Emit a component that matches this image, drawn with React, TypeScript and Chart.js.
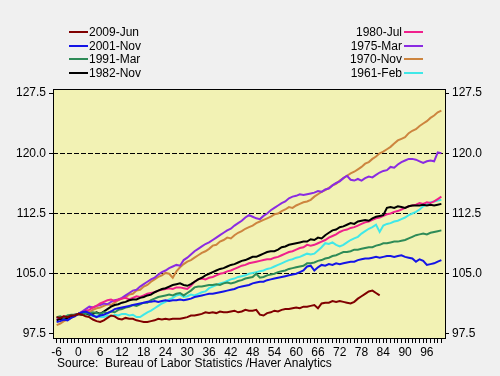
import React, { useEffect, useRef } from 'react';
import { Chart, registerables } from 'chart.js';

Chart.register(...registerables);

// Months relative to the trough (x axis), -6 .. 100
const FIRST_MONTH = -6;

const xTickLabels = [-6, 0, 6, 12, 18, 24, 30, 36, 42, 48, 54, 60, 66, 72, 78, 84, 90, 96];
const yTickValues = [97.5, 105, 112.5, 120, 127.5];

// Series values, index = 100 at trough, one value per month from -6
const s2009Jun = [
  99.6, 99.5, 99.7, 99.6, 99.8, 99.8, 100.0,
  99.9, 99.7, 99.6, 99.3, 99.1, 99.0, 99.2, 99.5, 99.8, 99.7, 99.4, 99.3,
  99.5, 99.4, 99.4, 99.2, 99.1, 99.0, 99.0, 99.1, 99.2, 99.4, 99.3, 99.4,
  99.3, 99.4, 99.4, 99.4, 99.5, 99.6, 99.8, 99.8, 99.9, 100.0, 100.2, 100.1,
  100.2, 100.1, 100.3, 100.2, 100.2, 100.3, 100.4, 100.2, 100.3, 100.5, 100.4, 100.4,
  100.5, 99.9, 99.8, 100.1, 100.2, 100.4, 100.3, 100.5, 100.6, 100.6, 100.7, 100.8,
  100.7, 100.9, 100.9, 101.0, 101.1, 100.7, 101.3, 101.4, 101.4, 101.6, 101.5, 101.6,
  101.5, 101.4, 101.3, 101.5, 101.9, 102.2, 102.5, 102.8, 102.9, 102.6, 102.3,
];

const s2001Nov = [
  99.0, 99.1, 99.3, 99.2, 99.5, 99.7, 100.0,
  100.2, 100.3, 100.1, 99.8, 99.6, 99.8, 99.9, 100.1, 100.3, 100.6, 100.7, 100.8,
  100.9, 101.0, 101.1, 101.2, 101.3, 101.4, 101.5, 101.5, 101.6, 101.5, 101.6, 101.7,
  101.6, 101.7, 101.7, 101.8, 101.7, 101.8, 101.9, 102.1, 102.2, 102.3, 102.4, 102.5,
  102.5, 102.6, 102.7, 102.8, 102.9, 103.0, 103.1, 103.3, 103.4, 103.5, 103.6, 103.8,
  103.9, 104.0, 104.0, 104.2, 104.3, 104.4, 104.5, 104.6, 104.7, 104.8, 104.9, 105.0,
  105.2, 105.4, 105.9, 106.0, 105.4, 105.8, 106.1, 106.0, 106.2, 106.1, 106.3, 106.2,
  106.3, 106.4, 106.5, 106.5, 106.7, 106.8, 106.9, 106.9, 107.0, 107.1, 107.0, 107.1,
  107.2, 107.2, 107.1, 107.2, 107.3, 107.1, 107.0, 106.9, 106.5, 106.8, 106.6, 106.1,
  106.2, 106.3, 106.5, 106.7,
];

const s1991Mar = [
  99.6, 99.7, 99.5, 99.8, 99.9, 99.9, 100.0,
  99.9, 100.1, 100.0, 100.2, 100.1, 100.0, 100.2, 100.1, 100.3, 100.2, 100.5, 100.6,
  100.8, 100.9, 101.1, 101.0, 101.2, 101.4, 101.4, 101.7, 101.9, 102.1, 102.2, 102.3,
  102.4, 102.3, 102.5, 102.6, 102.3, 102.6, 102.9, 103.3, 103.4, 103.4, 103.5, 103.6,
  103.6, 103.7, 103.6, 103.8, 103.9, 103.8, 103.9, 104.1, 104.2, 104.4, 104.5, 104.6,
  105.0, 104.5, 104.6, 104.8, 104.9, 105.0, 105.2, 105.3, 105.4, 105.6, 105.7, 105.8,
  105.9, 106.0, 106.3, 106.3, 106.4, 106.6, 106.7, 106.9, 107.0, 107.2, 107.3, 107.5,
  107.7, 107.7, 107.8, 108.0, 108.0, 108.1, 108.2, 108.3, 108.3, 108.5, 108.6, 108.8,
  108.8, 108.9, 109.0, 109.0, 109.1, 109.2, 109.4, 109.6, 109.8, 109.9, 110.0, 109.9,
  110.1, 110.2, 110.3, 110.4,
];

const s1982Nov = [
  99.2, 99.4, 99.3, 99.5, 99.7, 99.8, 100.0,
  99.9, 100.1, 99.9, 100.0, 100.2, 100.0, 100.3, 100.6, 100.9, 101.1, 101.2, 101.4,
  101.5, 101.7, 101.8, 101.8, 102.0, 102.1, 102.3, 102.4, 102.7, 102.9, 103.1, 103.2,
  103.4, 103.6, 103.7, 103.8, 103.6, 103.5, 103.7, 104.0, 104.3, 104.5, 104.8, 105.0,
  105.2, 105.4, 105.6, 105.7, 105.9, 106.1, 106.2, 106.4, 106.6, 106.7, 106.9, 107.1,
  107.1, 107.3, 107.5, 107.7, 107.8, 107.8, 108.0, 108.3, 108.4, 108.6, 108.7, 108.8,
  108.9, 109.0, 109.0, 109.3, 109.2, 109.5, 109.4, 109.8, 110.1, 110.4, 110.5, 110.8,
  110.9, 111.1, 111.3, 111.2, 111.5, 111.6, 111.7, 111.6, 111.9, 112.1, 112.2, 112.3,
  113.2, 113.3, 113.2, 113.4, 113.3, 113.2, 113.4, 113.5, 113.5, 113.5, 113.6, 113.5,
  113.6, 113.5, 113.6, 113.7,
];

const s1980Jul = [
  99.6, 99.5, 99.7, 99.6, 99.8, 99.9, 100.0,
  100.2, 100.4, 100.5, 100.8, 101.0, 101.3, 101.5, 101.7, 101.8, 101.6, 101.8, 101.9,
  102.0, 101.8, 102.0, 102.2, 102.1, 102.3, 102.5, 102.6, 102.7, 102.9, 103.0, 103.1,
  103.2, 103.1, 103.3, 103.3, 103.2, 103.1, 103.5, 104.0, 104.3, 104.4, 104.3, 104.5,
  104.6, 104.8, 105.0, 105.1, 105.3, 105.4, 105.6, 105.8, 106.0, 106.1, 106.3, 106.4,
  106.5, 106.6, 106.7, 106.8, 106.8, 107.0, 107.1, 107.3, 107.5, 107.7, 107.8, 108.0,
  108.2, 108.3, 108.6, 108.5, 108.6, 108.8, 109.0, 109.2, 109.5, 109.7, 109.9, 110.2,
  110.4, 110.5, 110.7, 110.8, 111.0, 111.2, 111.4, 111.5, 111.7, 111.9, 112.0, 112.2,
  112.4, 112.5, 112.7, 112.8, 113.0, 113.2, 113.4, 113.5, 113.6, 113.8, 113.7, 113.9,
  113.8, 114.0, 114.3, 114.6,
];

const s1975Mar = [
  99.4, 99.3, 99.6, 99.5, 99.7, 99.9, 100.0,
  100.3, 100.6, 100.9, 100.8, 101.0, 101.1, 101.3, 101.2, 101.5, 101.7, 101.8, 102.0,
  102.3, 102.6, 102.9, 103.0, 103.4, 103.7, 104.0, 104.3, 104.5, 104.9, 105.2, 105.4,
  105.7, 105.9, 106.1, 106.0, 106.7, 107.0, 107.4, 107.8, 108.1, 108.4, 108.7, 108.9,
  109.2, 109.5, 109.8, 110.1, 110.4, 110.6, 111.0, 111.3, 111.6, 112.0, 112.3, 112.1,
  111.9, 111.8, 112.2, 112.5, 112.9, 113.2, 113.5, 113.8, 114.0, 114.4, 114.6, 114.7,
  114.9, 114.8, 114.9, 115.0, 115.1, 115.3, 115.2, 115.5, 115.6, 116.0, 116.3, 116.5,
  116.9, 117.2, 116.7, 116.6, 116.8, 116.6, 116.9, 117.1, 117.0, 117.3, 117.6, 117.8,
  117.9, 118.3, 118.2, 118.6, 118.9, 119.1, 119.3, 119.3, 119.2, 119.0, 118.8, 119.0,
  119.1, 119.0, 120.1, 120.0,
];

const s1970Nov = [
  98.6, 98.8, 99.1, 99.3, 99.5, 99.8, 100.0,
  100.1, 100.3, 100.2, 100.5, 100.7, 100.8, 101.0, 101.2, 101.1, 101.4, 101.7, 101.9,
  102.1, 102.4, 102.5, 102.9, 103.0, 103.4, 103.6, 104.0, 104.3, 104.6, 104.8, 105.1,
  105.0, 104.5, 105.3, 105.8, 106.2, 106.5, 106.7, 107.0, 107.3, 107.6, 107.8, 108.1,
  108.5, 108.6, 109.0, 109.2, 109.5, 109.4, 109.8, 110.1, 110.3, 110.6, 110.8, 111.0,
  111.3, 111.5, 111.7, 111.9, 112.1, 112.4, 112.5, 112.8, 113.0, 113.3, 113.2, 113.5,
  113.7, 113.9, 114.0, 114.2, 114.6, 114.9, 115.2, 115.4, 115.7, 116.0, 116.2, 116.6,
  116.9, 117.2, 117.5, 117.7, 118.0, 118.3, 118.7, 118.9, 119.3, 119.6, 120.0, 120.2,
  120.5, 120.8, 121.2, 121.6, 121.8, 122.0, 122.5, 122.8, 123.0, 123.4, 123.7, 124.0,
  124.4, 124.7, 125.1, 125.3,
];

const s1961Feb = [
  99.5, 99.6, 99.5, 99.8, 99.7, 99.9, 100.0,
  100.1, 100.0, 99.9, 99.7, 99.8, 99.6, 99.6, 99.8, 99.7, 99.9, 99.8, 100.0,
  100.0, 99.8, 99.9, 99.6, 99.6, 99.9, 100.2, 100.4, 100.7, 101.0, 101.3, 101.5,
  101.8, 102.0, 102.3, 102.4, 102.1, 102.2, 102.4, 102.3, 102.5, 102.7, 102.8, 103.2,
  103.4, 103.6, 103.8, 103.9, 104.1, 104.3, 104.4, 104.6, 104.7, 104.8, 105.0, 105.1,
  105.2, 105.3, 105.4, 105.6, 105.7, 105.9, 106.1, 106.3, 106.5, 106.7, 106.8, 107.0,
  107.1, 107.3, 107.5, 107.4, 107.5, 107.9, 108.3, 108.8, 108.7, 108.9, 108.6, 108.4,
  108.6, 108.9, 109.2, 109.4, 109.6, 110.0, 110.3, 110.6, 110.8, 111.1, 110.2, 111.0,
  111.2, 111.3, 111.5, 111.6, 111.8, 112.0, 112.3, 112.5, 112.7, 113.0, 113.4, 113.6,
  113.9, 114.0, 114.1, 114.2,
];

const seriesNames = ['2009-Jun', '2001-Nov', '1991-Mar', '1982-Nov', '1980-Jul', '1975-Mar', '1970-Nov', '1961-Feb'];
const seriesValues = [s2009Jun, s2001Nov, s1991Mar, s1982Nov, s1980Jul, s1975Mar, s1970Nov, s1961Feb];
const seriesColors = ['#800000', '#1414e6', '#2e8b57', '#000000', '#f0208c', '#8a2be2', '#cd853f', '#40e8e8'];

const leftLegend = [0, 1, 2, 3];
const rightLegend = [4, 5, 6, 7];

const FONT = 'Arial, "Liberation Sans", sans-serif';
const PLOT_BG = '#f2f2b4';
const PAGE_BG = '#f0f0f0';

const monthTicks: number[] = [];
for (let m = -6; m <= 100; m++) monthTicks.push(m);

const plotPlugin = {
  id: 'plotFrame',
  beforeDraw(chart: any) {
    const { ctx, chartArea } = chart;
    ctx.save();
    ctx.fillStyle = PLOT_BG;
    ctx.fillRect(chartArea.left, chartArea.top, chartArea.right - chartArea.left, chartArea.bottom - chartArea.top);
    ctx.restore();
  },
  afterDraw(chart: any) {
    const { ctx, chartArea } = chart;
    ctx.save();
    ctx.strokeStyle = '#000';
    ctx.lineWidth = 1;
    ctx.strokeRect(
      Math.round(chartArea.left) + 0.5,
      Math.round(chartArea.top) + 0.5,
      Math.round(chartArea.right - chartArea.left),
      Math.round(chartArea.bottom - chartArea.top)
    );
    ctx.restore();
  },
};

function ChartView() {
  const ref = useRef<HTMLCanvasElement | null>(null);
  useEffect(() => {
    if (!ref.current) return;
    Chart.defaults.font.family = FONT;
    Chart.defaults.font.size = 12;
    Chart.defaults.color = '#000';
    const datasets = seriesNames.map((name, i) => ({
      label: name,
      data: seriesValues[i].map((v, j) => ({ x: FIRST_MONTH + j, y: v })),
      borderColor: seriesColors[i],
      backgroundColor: seriesColors[i],
      borderWidth: 2,
      pointRadius: 0,
      tension: 0,
      fill: false,
    }));
    const chart = new Chart(ref.current, {
      type: 'line',
      data: { datasets },
      plugins: [plotPlugin],
      options: {
        animation: false,
        responsive: false,
        maintainAspectRatio: false,
        layout: { padding: { top: 89, left: 0, right: 0, bottom: 0 } },
        plugins: { legend: { display: false }, tooltip: { enabled: false } },
        scales: {
          x: {
            type: 'linear',
            min: -7,
            max: 101,
            afterBuildTicks: (s: any) => {
              s.ticks = monthTicks.map((v) => ({ value: v }));
            },
            afterFit: (s: any) => {
              s.height = 38;
            },
            ticks: {
              autoSkip: false,
              maxRotation: 0,
              minRotation: 0,
              padding: 2,
              color: '#000',
              font: { size: 12, family: FONT },
              callback: (v: any) => (xTickLabels.includes(Number(v)) ? String(v) : ''),
            },
            grid: { drawOnChartArea: false, drawTicks: true, tickLength: 5, color: '#000', tickColor: '#000' },
            border: { display: false },
          },
          y: {
            position: 'left',
            min: 97,
            max: 128,
            afterBuildTicks: (s: any) => {
              s.ticks = yTickValues.map((v) => ({ value: v }));
            },
            afterFit: (s: any) => {
              s.width = 53;
            },
            ticks: {
              padding: 3,
              color: '#000',
              font: { size: 12, family: FONT },
              callback: (v: any) => Number(v).toFixed(1),
            },
            grid: {
              drawOnChartArea: true,
              drawTicks: true,
              tickLength: 4,
              color: (c: any) => (c.tick && c.tick.value > 98 && c.tick.value < 127 ? '#000' : 'rgba(0,0,0,0)'),
              tickColor: '#000',
              tickBorderDash: [],
            },
            border: { display: false, dash: [5, 2] },
          },
          y2: {
            position: 'right',
            min: 97,
            max: 128,
            afterBuildTicks: (s: any) => {
              s.ticks = yTickValues.map((v) => ({ value: v }));
            },
            afterFit: (s: any) => {
              s.width = 55;
            },
            ticks: {
              padding: 3,
              color: '#000',
              font: { size: 12, family: FONT },
              callback: (v: any) => Number(v).toFixed(1),
            },
            grid: { drawOnChartArea: false, drawTicks: true, tickLength: 4, color: '#000', tickColor: '#000' },
            border: { display: false },
          },
        },
      },
    } as any);
    return () => chart.destroy();
  }, []);
  return <canvas ref={ref} width={500} height={376} style={{ position: 'absolute', left: 0, top: 0, width: 500, height: 376 }} />;
}

const textStyle: React.CSSProperties = {
  position: 'absolute',
  fontFamily: FONT,
  fontSize: 12,
  lineHeight: '14px',
  color: '#000',
  whiteSpace: 'pre',
};

export default function App() {
  return (
    <div style={{ position: 'fixed', left: 0, top: 0, width: 500, height: 376, background: PAGE_BG, overflow: 'hidden' }}>
      <ChartView />
      {leftLegend.map((idx, row) => {
        const cy = 32 + row * 13.5;
        return (
          <React.Fragment key={'l' + idx}>
            <div style={{ position: 'absolute', left: 69, top: cy - 1, width: 19, height: 2, background: seriesColors[idx] }} />
            <div style={{ ...textStyle, left: 89, top: cy - 7 }}>{seriesNames[idx]}</div>
          </React.Fragment>
        );
      })}
      {rightLegend.map((idx, row) => {
        const cy = 32 + row * 13.5;
        return (
          <React.Fragment key={'r' + idx}>
            <div style={{ ...textStyle, right: 98, top: cy - 7, textAlign: 'right' }}>{seriesNames[idx]}</div>
            <div style={{ position: 'absolute', left: 404, top: cy - 1, width: 19, height: 2, background: seriesColors[idx] }} />
          </React.Fragment>
        );
      })}
      <div style={{ ...textStyle, left: 57, top: 356 }}>{'Source:  Bureau of Labor Statistics /Haver Analytics'}</div>
    </div>
  );
}
